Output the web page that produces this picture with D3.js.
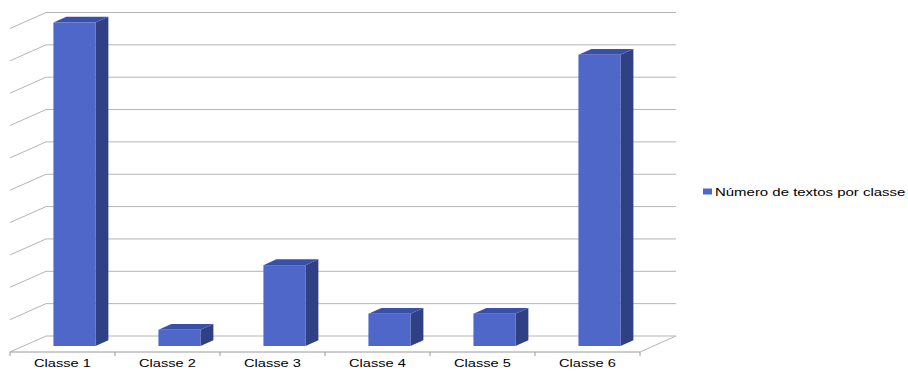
<!DOCTYPE html>
<html>
<head>
<meta charset="utf-8">
<script src="https://cdn.jsdelivr.net/npm/d3@7"></script>
<style>
  html, body { margin: 0; padding: 0; background: #fff; }
  svg { display: block; }
  text { font-family: "Liberation Sans", Arial, sans-serif; }
</style>
</head>
<body>
<svg id="chart" width="908" height="371"></svg>
<script>
// ---- data ----
const categories = ["Classe 1", "Classe 2", "Classe 3", "Classe 4", "Classe 5", "Classe 6"];
const values = [20, 1, 5, 2, 2, 18];
const seriesName = "Número de textos por classe";
const tickValues = [0, 2, 4, 6, 8, 10, 12, 14, 16, 18, 20];

// ---- layout ----
const svg = d3.select("#chart");
const frontLeft = 10, frontRight = 640, floorY = 352;
const depthDx = 36, depthDy = -16;          // back wall offset
const barFrontF = 0.375, barDepthF = 0.36;  // bar placement in depth

const x = d3.scaleBand().domain(categories).range([frontLeft, frontRight]).paddingInner(0).paddingOuter(0);
const y = d3.scaleLinear().domain([0, 20]).range([floorY, 28.5]);

const gridColor = "#b5b5b5";
const axisColor = "#9a9a9a";

// gridlines: back wall + left wall
const grid = svg.append("g");
tickValues.forEach(t => {
  const yf = y(t);
  grid.append("line")
    .attr("x1", frontLeft + depthDx).attr("y1", yf + depthDy)
    .attr("x2", frontRight + depthDx).attr("y2", yf + depthDy)
    .attr("stroke", gridColor).attr("stroke-width", 1);
  grid.append("line")
    .attr("x1", frontLeft).attr("y1", yf)
    .attr("x2", frontLeft + depthDx).attr("y2", yf + depthDy)
    .attr("stroke", gridColor).attr("stroke-width", 1);
});
// floor front edge and right edge
grid.append("line")
  .attr("x1", frontLeft).attr("y1", floorY)
  .attr("x2", frontRight).attr("y2", floorY)
  .attr("stroke", axisColor).attr("stroke-width", 1);
grid.append("line")
  .attr("x1", frontRight).attr("y1", floorY)
  .attr("x2", frontRight + depthDx).attr("y2", floorY + depthDy)
  .attr("stroke", gridColor).attr("stroke-width", 1);
// ticks at category boundaries
const boundaries = categories.map(c => x(c)).concat([frontRight]);
boundaries.forEach(bx => {
  grid.append("line")
    .attr("x1", bx).attr("y1", floorY)
    .attr("x2", bx).attr("y2", floorY + 4)
    .attr("stroke", axisColor).attr("stroke-width", 1);
});

// bars
const bw = x.bandwidth();
const barW = bw * 0.4;
const offX = bw * 0.285;
const fdx = depthDx * barFrontF, fdy = depthDy * barFrontF;
const ddx = depthDx * barDepthF, ddy = depthDy * barDepthF;
const colFront = "#4f67c9", colTop = "#3a50a8", colSide = "#2f4084";

const bars = svg.append("g");
categories.forEach((c, i) => {
  const x0 = x(c) + offX + fdx;
  const x1 = x0 + barW;
  const yb = floorY + fdy;
  const yt = y(values[i]) + fdy;
  const g = bars.append("g");
  g.append("path")
    .attr("d", `M${x1},${yt} L${x1 + ddx},${yt + ddy} L${x1 + ddx},${yb + ddy} L${x1},${yb} Z`)
    .attr("fill", colSide);
  g.append("path")
    .attr("d", `M${x0},${yt} L${x0 + ddx},${yt + ddy} L${x1 + ddx},${yt + ddy} L${x1},${yt} Z`)
    .attr("fill", colTop);
  g.append("rect")
    .attr("x", x0).attr("y", yt)
    .attr("width", barW).attr("height", yb - yt)
    .attr("fill", colFront);
});

// category labels
const labels = svg.append("g");
categories.forEach(c => {
  const cx = x(c) + bw / 2;
  labels.append("text")
    .attr("transform", `translate(${cx},367) scale(1.33,1)`)
    .attr("text-anchor", "middle")
    .attr("font-size", 11)
    .attr("fill", "#000")
    .text(c);
});

// legend
const leg = svg.append("g");
leg.append("rect")
  .attr("x", 703).attr("y", 188.5).attr("width", 9).attr("height", 6)
  .attr("fill", colFront);
leg.append("text")
  .attr("transform", "translate(715,196) scale(1.36,1)")
  .attr("font-size", 11)
  .attr("fill", "#000")
  .text(seriesName);
</script>
</body>
</html>
